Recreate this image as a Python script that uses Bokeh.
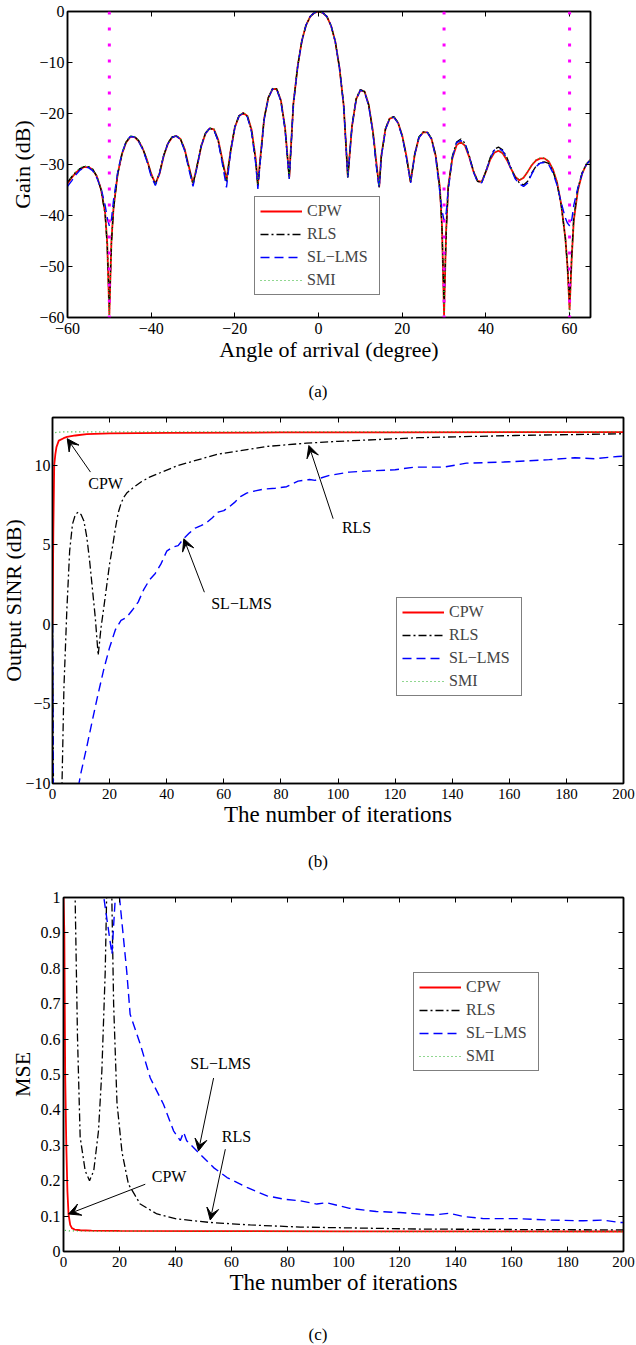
from bokeh.plotting import figure
from bokeh.models import (LinearAxis, FixedTicker, CustomJSTickFormatter, Legend, LegendItem,
                          Span, Arrow, VeeHead, Label, Title, Range1d, Div)
from bokeh.embed import file_html
from bokeh.resources import INLINE

FONT = "Liberation Serif"

# ---------------- (a) beam pattern ----------------
angle_deg = [
    -60, -59, -58, -57, -56, -55, -54, -53, -52, -51,
    -50.5, -50, -49.5, -49, -48, -47, -46, -45, -44, -43,
    -42, -41, -40, -39, -38, -37, -36, -35, -34, -33,
    -32, -31, -30, -29, -28, -27, -26, -25, -24, -23,
    -22, -21, -20, -19, -18, -17, -16, -15, -14.5, -14,
    -13, -12, -11, -10, -9, -8, -7, -6, -5, -4,
    -3, -2, -1, 0, 1, 2, 3, 4, 5, 6,
    7, 8, 9, 10, 11, 12, 13, 14, 14.5, 15,
    16, 17, 18, 19, 20, 21, 22, 23, 24, 25,
    26, 27, 28, 29, 29.5, 30, 30.5, 31, 32, 33,
    34, 35, 36, 37, 38, 39, 40, 41, 42, 43,
    44, 45, 46, 47, 48, 49, 50, 51, 52, 53,
    54, 55, 56, 57, 58, 59, 59.5, 60, 60.5, 61,
    62, 63, 64, 65]

gain_cpw = [
    -33.7, -32.6, -31.6, -30.9, -30.5, -30.5, -31.0, -32.3, -34.8, -39.5,
    -45.5, -59.5, -45.0, -38.5, -31.8, -28.0, -25.7, -24.6, -24.6, -25.4,
    -26.9, -29.1, -31.8, -33.8, -31.8, -28.3, -25.9, -24.7, -24.4, -25.0,
    -27.0, -30.4, -33.7, -30.2, -26.3, -23.9, -22.9, -23.1, -25.1, -29.0,
    -33.0, -27.3, -22.7, -20.5, -19.9, -20.5, -23.2, -29.0, -34.0, -29.5,
    -21.0, -16.9, -15.2, -15.2, -17.4, -22.8, -32.5, -18.0, -10.8, -5.8,
    -2.7, -1.0, -0.25, 0.0, -0.25, -1.0, -2.8, -5.9, -11.0, -18.3,
    -32.4, -22.5, -17.2, -15.4, -15.7, -18.3, -23.5, -31.0, -34.3, -28.3,
    -23.0, -21.0, -20.7, -21.8, -24.3, -28.3, -33.4, -28.0, -24.7, -23.7,
    -23.7, -25.0, -28.3, -34.5, -42.0, -59.5, -43.0, -34.3, -28.7, -26.2,
    -25.6, -26.3, -28.5, -31.3, -33.2, -33.4, -31.4, -29.1, -27.7, -27.3,
    -27.8, -29.1, -30.8, -32.4, -33.1, -32.6, -31.4, -30.1, -29.2, -28.8,
    -28.8, -29.4, -30.9, -33.5, -37.8, -44.5, -50.0, -58.5, -48.5, -41.0,
    -35.0, -31.8, -30.0, -29.1]

gain_rls = [
    -33.5, -32.4, -31.5, -30.8, -30.4, -30.4, -30.9, -32.3, -34.9, -39.8,
    -46.0, -58.0, -45.5, -38.8, -31.9, -28.0, -25.6, -24.5, -24.5, -25.3,
    -26.9, -29.2, -32.0, -33.9, -31.6, -28.2, -25.8, -24.6, -24.4, -25.0,
    -27.1, -30.6, -33.9, -30.1, -26.2, -23.8, -22.9, -23.2, -25.3, -29.4,
    -33.3, -27.2, -22.6, -20.4, -19.9, -20.6, -23.5, -29.5, -34.4, -29.8,
    -21.0, -16.9, -15.1, -15.2, -17.5, -23.0, -32.8, -18.0, -10.8, -5.8,
    -2.7, -1.0, -0.25, 0.0, -0.25, -1.0, -2.8, -5.9, -11.0, -18.3,
    -32.6, -22.4, -17.1, -15.3, -15.7, -18.4, -23.7, -31.4, -34.5, -28.5,
    -23.0, -20.9, -20.6, -21.8, -24.4, -28.5, -33.5, -27.9, -24.6, -23.6,
    -23.6, -24.9, -28.2, -34.8, -42.5, -57.5, -43.5, -34.5, -28.3, -25.6,
    -25.0, -25.8, -28.2, -31.2, -33.3, -33.6, -31.3, -28.7, -27.0, -26.6,
    -27.1, -28.6, -30.6, -32.6, -33.6, -34.0, -33.3, -31.6, -30.3, -29.6,
    -29.5, -29.8, -31.3, -33.8, -38.0, -44.5, -50.0, -57.0, -48.0, -40.5,
    -34.6, -31.6, -29.9, -29.1]

gain_sllms = [
    -34.3, -33.2, -32.0, -31.1, -30.6, -30.6, -31.2, -32.6, -34.6, -38.0,
    -40.5, -42.0, -40.8, -37.0, -31.5, -27.8, -25.5, -24.5, -24.6, -25.5,
    -27.1, -29.4, -32.3, -34.1, -31.7, -28.2, -25.9, -24.7, -24.4, -25.1,
    -27.3, -30.9, -34.3, -30.3, -26.3, -23.9, -22.9, -23.2, -25.4, -29.8,
    -34.5, -27.5, -22.7, -20.5, -19.9, -20.7, -23.7, -30.0, -34.8, -30.0,
    -21.2, -17.0, -15.2, -15.2, -17.6, -23.2, -32.8, -18.1, -10.9, -5.8,
    -2.7, -1.0, -0.25, 0.0, -0.25, -1.0, -2.8, -5.9, -11.0, -18.4,
    -32.5, -22.5, -17.2, -15.4, -15.8, -18.5, -23.8, -31.8, -34.6, -28.6,
    -23.1, -21.0, -20.7, -21.9, -24.5, -28.6, -33.6, -28.0, -24.7, -23.7,
    -23.7, -25.0, -28.6, -35.5, -39.0, -41.0, -39.5, -35.0, -28.6, -25.7,
    -25.3, -26.0, -28.4, -31.4, -33.4, -33.6, -31.4, -28.9, -27.2, -26.9,
    -27.3, -28.8, -30.9, -32.8, -33.8, -34.3, -33.6, -31.8, -30.4, -29.7,
    -29.6, -30.0, -31.6, -34.0, -37.5, -40.5, -41.5, -42.0, -41.0, -38.0,
    -34.5, -31.8, -30.0, -29.1]

gain_smi = [
    -33.4, -32.4, -31.4, -30.7, -30.3, -30.3, -30.9, -32.2, -34.7, -39.4,
    -45.6, -60.0, -45.2, -38.4, -31.7, -27.9, -25.6, -24.4, -24.5, -25.3,
    -26.8, -29.0, -31.7, -33.7, -31.7, -28.2, -25.8, -24.6, -24.3, -24.9,
    -26.9, -30.3, -33.6, -30.1, -26.2, -23.8, -22.8, -23.0, -25.0, -28.9,
    -32.9, -27.2, -22.6, -20.4, -19.8, -20.4, -23.1, -28.9, -33.9, -29.4,
    -20.9, -16.8, -15.1, -15.1, -17.3, -22.7, -32.4, -17.9, -10.7, -5.7,
    -2.7, -1.0, -0.25, 0.0, -0.25, -1.0, -2.8, -5.9, -11.0, -18.2,
    -32.3, -22.4, -17.1, -15.3, -15.6, -18.2, -23.4, -30.9, -34.2, -28.2,
    -22.9, -20.9, -20.6, -21.7, -24.2, -28.2, -33.3, -27.9, -24.6, -23.6,
    -23.6, -24.9, -28.2, -34.6, -42.5, -60.0, -43.5, -34.4, -28.6, -26.1,
    -25.5, -26.2, -28.4, -31.2, -33.1, -33.3, -31.3, -29.0, -27.6, -27.2,
    -27.7, -29.0, -30.7, -32.3, -33.0, -32.5, -31.3, -30.0, -29.1, -28.7,
    -28.7, -29.3, -30.8, -33.4, -37.9, -44.8, -50.5, -59.5, -49.0, -41.2,
    -35.0, -31.7, -29.9, -29.0]

interferer_deg = [-50, 30, 60]

# ---------------- (b) output SINR ----------------
sinr_cpw_it = [0, 0.3, 0.6, 1.0, 1.4, 2.2, 3.9, 5.1, 8, 12, 20, 40, 80, 120, 200]
sinr_cpw = [0, 6.0, 10.0, 10.7, 11.15, 11.55, 11.7, 11.78, 11.87, 11.95, 12.0, 12.04, 12.06, 12.07, 12.08]

sinr_rls_it = [0, 1, 2, 3, 4, 5, 6, 7, 8, 9, 10, 11, 12, 13, 14, 15, 16, 17, 18, 20,
               21, 22, 23, 24, 25, 26, 28, 31, 34, 44, 58, 75, 89, 100, 128, 162, 200]
sinr_rls = [0, -30, -28, -13, -4.0, 0.8, 4.6, 6.3, 6.9, 7.05, 6.9, 6.5, 5.5, 4.0, 2.2, 0.4, -1.95, -0.2, 1.1, 3.8,
            4.85, 6.0, 7.0, 7.6, 8.0, 8.25, 8.55, 8.95, 9.25, 9.99, 10.7, 11.18, 11.39, 11.5, 11.73, 11.87, 11.98]

sinr_sllms_it = [0, 1, 4, 8, 10, 12, 14, 16, 18, 20, 22, 24, 26, 28, 30, 32, 34, 36, 38, 40,
                 42, 44, 46, 48, 50, 52, 54, 56, 58, 60, 62, 64, 66, 68, 70, 74, 78, 82, 86, 90,
                 92, 94, 97, 104, 112, 120, 127, 137, 145, 158, 174, 183, 190, 198, 200]
sinr_sllms = [0, -35, -22, -11.2, -9.3, -7.7, -6.0, -4.35, -2.8, -1.45, -0.35, 0.25, 0.45, 0.9, 1.4, 2.2, 2.8, 3.2, 3.8, 4.6,
              4.85, 4.95, 5.4, 5.75, 6.05, 6.2, 6.4, 6.7, 7.05, 7.15, 7.4, 7.7, 8.05, 8.25, 8.35, 8.5, 8.55, 8.65, 9.0, 9.1,
              9.05, 9.2, 9.36, 9.57, 9.65, 9.72, 9.88, 9.88, 10.13, 10.2, 10.35, 10.47, 10.41, 10.55, 10.57]

sinr_smi_it = [1, 2, 5, 10, 50, 100, 150, 200]
sinr_smi = [12.05, 12.08, 12.1, 12.1, 12.1, 12.1, 12.1, 12.1]

# ---------------- (c) MSE ----------------
mse_cpw_it = [0, 0.3, 0.6, 1.0, 1.4, 1.8, 2.4, 3, 4, 6, 10, 20, 50, 100, 150, 200]
mse_cpw = [1.0, 0.9, 0.5, 0.3, 0.17, 0.105, 0.075, 0.066, 0.062, 0.060, 0.059, 0.058, 0.0575, 0.057, 0.0568, 0.0565]

mse_rls_it = [0, 1, 2, 3, 4.2, 5.0, 5.95, 7.75, 9.3, 10.8, 12.5, 13.7, 14.9, 15.4, 16.3, 17.3, 17.9, 19.1,
              20.9, 23.2, 27.4, 33.4, 40.5, 52.4, 66.7, 84.6, 100, 126, 162, 200]
mse_rls = [1.0, 3.0, 2.5, 1.6, 0.98, 0.605, 0.323, 0.228, 0.2, 0.228, 0.341, 0.51, 0.79, 1.0, 1.6, 0.98, 0.70, 0.42,
           0.28, 0.19, 0.134, 0.106, 0.092, 0.082, 0.075, 0.069, 0.067, 0.0635, 0.062, 0.061]

mse_sllms_it = [0, 1, 5, 10, 14.4, 17.3, 18.5, 19.3, 20.0, 22.6, 23.8, 27.4, 31, 35.7, 39.3, 41.7, 42.9, 44,
                48.8, 53.6, 58.4, 65.5, 72.7, 78.6, 84.6, 90.5, 93.9, 102.2, 111.7, 120.1, 132, 137.9, 142.7,
                149.9, 161.8, 173.7, 185.6, 192.7, 198.7, 200]
mse_sllms = [1.0, 3.0, 6.0, 4.0, 1.0, 0.84, 1.0, 1.1, 1.0, 0.79, 0.67, 0.586, 0.49, 0.416, 0.341, 0.313, 0.337, 0.313,
             0.275, 0.237, 0.209, 0.181, 0.157, 0.148, 0.143, 0.134, 0.138, 0.122, 0.113, 0.110, 0.103, 0.108, 0.099,
             0.093, 0.093, 0.0887, 0.0867, 0.0887, 0.082, 0.082]

mse_smi_it = [0.5, 1, 2, 5, 20, 50, 100, 150, 200]
mse_smi = [0.06, 0.059, 0.058, 0.058, 0.0575, 0.057, 0.0565, 0.0562, 0.056]

# ---------------- styling ----------------
STY = {
    "CPW": dict(line_color="#FF0000", line_width=1.8),
    "RLS": dict(line_color="black", line_width=1.3, line_dash="8 3 2 3"),
    "SL\u2212LMS": dict(line_color="#0000FF", line_width=1.4, line_dash="9 5"),
    "SMI": dict(line_color="#22B022", line_width=1.2, line_dash="1 3"),
}


def num_fmt():
    return CustomJSTickFormatter(code="""
        const v = Math.round(tick*10)/10;
        return v < 0 ? '\\u2212' + Math.abs(v) : String(v);
    """)


def make_fig(width, height, xr, yr, borders, xticks, yticks, xlabel, ylabel, ylab_standoff,
             xlab_fs, xtick_fs, ytick_standoff=3):
    l, r, t, b = borders
    p = figure(width=width, height=height, x_range=Range1d(*xr), y_range=Range1d(*yr),
               output_backend="svg", toolbar_location=None,
               min_border_left=l, min_border_right=r, min_border_top=t, min_border_bottom=b)
    p.xgrid.visible = False
    p.ygrid.visible = False
    p.outline_line_color = "black"
    p.outline_line_width = 1.5
    p.outline_line_alpha = 1.0
    p.background_fill_color = "white"
    p.border_fill_color = "white"
    for ax, ticks, fs in ((p.xaxis[0], xticks, xtick_fs), (p.yaxis[0], yticks, "16px")):
        ax.ticker = FixedTicker(ticks=ticks)
        ax.formatter = num_fmt()
        ax.major_tick_in = 5
        ax.major_tick_out = 0
        ax.minor_tick_in = 0
        ax.minor_tick_out = 0
        ax.axis_line_width = 1.5
        ax.major_tick_line_width = 1
        ax.major_label_text_font = FONT
        ax.major_label_text_font_size = fs
        ax.major_label_text_color = "black"
    p.xaxis[0].major_label_standoff = 5
    p.yaxis[0].major_label_standoff = ytick_standoff
    p.xaxis[0].axis_label = xlabel
    p.xaxis[0].axis_label_text_font = FONT
    p.xaxis[0].axis_label_text_font_size = xlab_fs
    p.xaxis[0].axis_label_text_font_style = "normal"
    p.xaxis[0].axis_label_text_color = "black"
    p.xaxis[0].axis_label_standoff = 0
    # y label as a left-side title, tight against the tick labels
    p.add_layout(Title(text=ylabel, align="center", text_font=FONT, text_font_size="22px",
                       text_font_style="normal", text_color="black", standoff=ylab_standoff), "left")
    for side, ticks in (("above", xticks), ("right", yticks)):
        ax = LinearAxis(ticker=FixedTicker(ticks=ticks),
                        formatter=CustomJSTickFormatter(code="return ''"),
                        major_tick_in=5, major_tick_out=0, minor_tick_in=0, minor_tick_out=0,
                        major_label_standoff=0, major_label_text_font_size="0px",
                        axis_line_width=1.5)
        p.add_layout(ax, side)
    return p


def caption(text, height, pad_top):
    html = ("<div style=\"width:636px;text-align:center;font-family:'Liberation Serif';"
            "font-size:17px;line-height:18px;padding-top:%dpx;color:black\">%s</div>" % (pad_top, text))
    return Div(text=html, width=636, height=height, margin=0)


def add_series(p, series, loc):
    items = []
    for name, xs, ys in series:
        r = p.line(xs, ys, **STY[name])
        items.append(LegendItem(label=name, renderers=[r]))
    leg = Legend(items=items, location=loc, margin=0, padding=5, spacing=5,
                 glyph_width=42, glyph_height=18, label_height=18, label_width=67,
                 label_standoff=5, label_text_font=FONT, label_text_font_size="16px",
                 border_line_color="black", border_line_width=1.2, background_fill_alpha=1.0)
    p.add_layout(leg, "center")


def annotate(p, text, tx, ty, x0, y0, x1, y1):
    p.add_layout(Label(x=tx, y=ty, text=text, text_font=FONT, text_font_size="16px",
                       text_align="center", text_baseline="middle", text_color="black"))
    p.add_layout(Arrow(end=VeeHead(size=12, fill_color="black", line_color="black", line_width=1),
                       x_start=x0, y_start=y0, x_end=x1, y_end=y1,
                       line_color="black", line_width=1))


# ---- (a)  page rows 0..372, caption 372..405
pa = make_fig(636, 372, (-60, 65), (-60, 0), (67, 46, 11, 55),
              [-60, -40, -20, 0, 20, 40, 60], [-60, -50, -40, -30, -20, -10, 0],
              "Angle of arrival (degree)", "Gain (dB)", 3, "22px", "16px")
add_series(pa, [("CPW", angle_deg, gain_cpw), ("RLS", angle_deg, gain_rls),
                ("SL\u2212LMS", angle_deg, gain_sllms), ("SMI", angle_deg, gain_smi)], (187, 22))
for a in interferer_deg:
    pa.add_layout(Span(location=a, dimension="height", line_color="#FF00FF",
                       line_width=3, line_dash="3 13"))
cap_a = caption("(a)", 33, 11)

# ---- (b)  page rows 405..838, caption 838..870
pb = make_fig(636, 433, (0, 200), (-10, 13), (52, 13, 12, 55),
              list(range(0, 201, 20)), [-10, -5, 0, 5, 10],
              "The number of iterations", "Output SINR (dB)", -6, "23px", "15px", ytick_standoff=2)
add_series(pb, [("CPW", sinr_cpw_it, sinr_cpw), ("RLS", sinr_rls_it, sinr_rls),
                ("SL\u2212LMS", sinr_sllms_it, sinr_sllms), ("SMI", sinr_smi_it, sinr_smi)], (344, 87))
annotate(pb, "CPW", 18.6, 8.86, 13.3, 9.57, 5.15, 11.67)
annotate(pb, "RLS", 106.5, 6.09, 98.3, 6.64, 89.8, 11.24)
annotate(pb, "SL\u2212LMS", 66.2, 1.31, 53.2, 2.02, 46.0, 5.38)
cap_b = caption("(b)", 32, 15)

# ---- (c)  page rows 870..1306, caption 1306..1345
pc = make_fig(636, 436, (0, 200), (0, 1), (63, 13, 27, 55),
              list(range(0, 201, 20)), [0, 0.1, 0.2, 0.3, 0.4, 0.5, 0.6, 0.7, 0.8, 0.9, 1],
              "The number of iterations", "MSE", 6, "23px", "15px")
add_series(pc, [("CPW", mse_cpw_it, mse_cpw), ("RLS", mse_rls_it, mse_rls),
                ("SL\u2212LMS", mse_sllms_it, mse_sllms), ("SMI", mse_smi_it, mse_smi)], (350, 180))
annotate(pc, "SL\u2212LMS", 56.1, 0.532, 53.6, 0.49, 48.2, 0.284)
annotate(pc, "RLS", 61.8, 0.326, 57.8, 0.289, 52.4, 0.089)
annotate(pc, "CPW", 37.7, 0.213, 29.2, 0.19, 1.8, 0.106)
cap_c = caption("(c)", 39, 20)

open("out.html", "w").write(file_html([pa, cap_a, pb, cap_b, pc, cap_c], INLINE))
